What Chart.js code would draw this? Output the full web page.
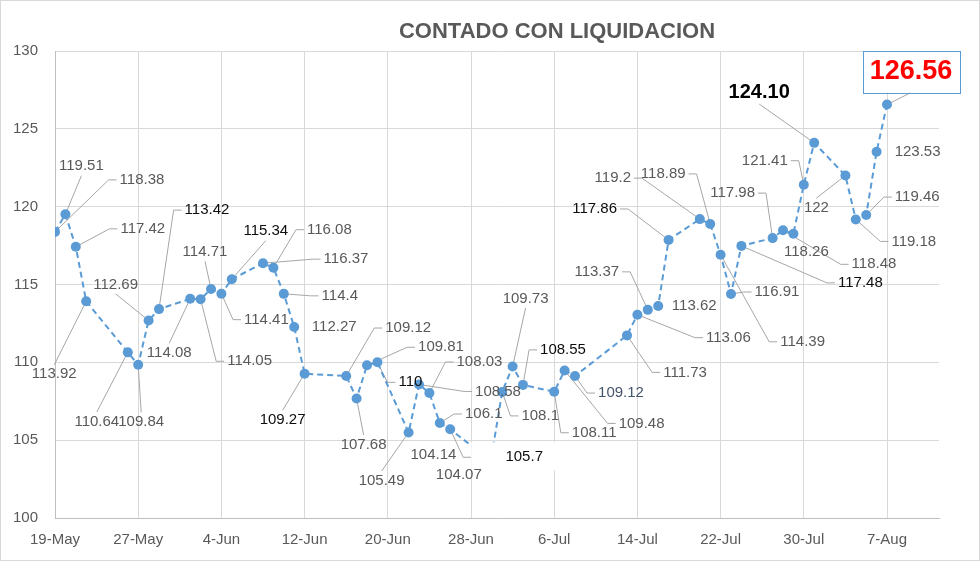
<!DOCTYPE html>
<html>
<head>
<meta charset="utf-8">
<title>Contado con Liquidacion</title>
<script src="https://cdn.jsdelivr.net/npm/chart.js@4.4.1/dist/chart.umd.min.js"></script>
<style>
  html, body { margin: 0; padding: 0; background: #fff; }
  #wrap { width: 980px; height: 561px; }
</style>
</head>
<body>
<div id="wrap"><canvas id="cclChart" width="980" height="561"></canvas></div>
<script>
// Daily CCL quotes (2020)
const dates = [
    '2020-05-19', '2020-05-20', '2020-05-21', '2020-05-22', '2020-05-26', '2020-05-27', '2020-05-28', '2020-05-29',
    '2020-06-01', '2020-06-02', '2020-06-03', '2020-06-04', '2020-06-05', '2020-06-08', '2020-06-09', '2020-06-10',
    '2020-06-11', '2020-06-12', '2020-06-16', '2020-06-17', '2020-06-18', '2020-06-19', '2020-06-22', '2020-06-23',
    '2020-06-24', '2020-06-25', '2020-06-26', '2020-06-29', '2020-06-30', '2020-07-01', '2020-07-02', '2020-07-03',
    '2020-07-06', '2020-07-07', '2020-07-08', '2020-07-13', '2020-07-14', '2020-07-15', '2020-07-16', '2020-07-17',
    '2020-07-20', '2020-07-21', '2020-07-22', '2020-07-23', '2020-07-24', '2020-07-27', '2020-07-28', '2020-07-29',
    '2020-07-30', '2020-07-31', '2020-08-03', '2020-08-04', '2020-08-05', '2020-08-06', '2020-08-07'
];
const cclValues = [
    118.38, 119.51, 117.42, 113.92, 110.64, 109.84, 112.69, 113.42,
    114.08, 114.05, 114.71, 114.41, 115.34, 116.37, 116.08, 114.4,
    112.27, 109.27, 109.12, 107.68, 109.81, 110, 105.49, 108.58,
    108.03, 106.1, 105.7, 104.14, 104.07, 108.1, 109.73, 108.55,
    108.11, 109.48, 109.12, 111.73, 113.06, 113.37, 113.62, 117.86,
    119.2, 118.89, 116.91, 114.39, 117.48, 117.98, 118.48, 118.26,
    121.41, 124.10, 122, 119.18, 119.46, 123.53, 126.56
];
// label texts as printed on the chart
const labelTexts = [
    '118.38', '119.51', '117.42', '113.92', '110.64', '109.84', '112.69', '113.42',
    '114.08', '114.05', '114.71', '114.41', '115.34', '116.37', '116.08', '114.4',
    '112.27', '109.27', '109.12', '107.68', '109.81', '110', '105.49', '108.58',
    '108.03', '106.1', '105.7', '104.14', '104.07', '108.1', '109.73', '108.55',
    '108.11', '109.48', '109.12', '111.73', '113.06', '113.37', '113.62', '117.86',
    '119.2', '118.89', '114.39', '116.91', '117.48', '117.98', '118.48', '118.26',
    '121.41', '124.10', '122', '119.18', '119.46', '123.53', '126.56'
];
const xTickLabels = ['19-May', '27-May', '4-Jun', '12-Jun', '20-Jun', '28-Jun', '6-Jul', '14-Jul', '22-Jul', '30-Jul', '7-Aug'];
const yTickValues = [100, 105, 110, 115, 120, 125, 130];

const tickStepDays = 8;
const lastDay = 85;

// label layout: [dx, dy, leader side, tone]
const labelPlace = [
    [87, -52, 'l', 'g'], [16, -48, 'b', 'g'], [67, -18, 'l', 'g'], [-32, 73, 't', 'g'],
    [-31, 69, 't', 'g'], [3, 57, 't', 'g'], [-33, -36, 'b', 'g'], [48, -99, 'l', 'k'],
    [-21, 54, 't', 'g'], [49, 62, 'l', 'g'], [-6, -37, 'b', 'g'], [45, 26, 'l', 'g'],
    [34, -48, 'b', 'k'], [83, -4, 'l', 'g'], [56, -38, 'l', 'g'], [56, 2, 'l', 'g'],
    [40, 0, '', 'g'], [-22, 46, 't', 'k'], [62, -48, 'l', 'g'], [7, 46, 't', 'g'],
    [74, -18, 'l', 'g'], [33, 20, 'l', 'k'], [-27, 48, 't', 'g'], [79, 7, 'l', 'g'],
    [50, -31, 'l', 'g'], [44, -9, 'l', 'g'], [74, 28, 'l', 'W'], [-48, 1, '', 'g'],
    [-33, 20, '', 'g'], [38, 24, 'l', 'g'], [13, -68, 'b', 'g'], [40, -35, 'l', 'k'],
    [40, 41, 'l', 'g'], [77, 53, 'l', 'g'], [46, 17, 'l', 'b'], [58, 37, 'l', 'g'],
    [91, 23, 'l', 'g'], [-51, -38, 'r', 'g'], [36, 0, '', 'g'], [-74, -31, 'r', 'k'],
    [-87, -41, 'r', 'g'], [-47, -50, 'r', 'g'], [82, 87, 'l', 'g'], [46, -2, 'l', 'g'],
    [119, 37, 'l', 'k'], [-40, -45, 'r', 'g'], [91, 34, 'l', 'g'], [13, 18, '', 'g'],
    [-39, -24, 'r', 'g'], [-55, -50, 'b', 'K'], [-29, 32, 't', 'g'], [58, 22, 'l', 'g'],
    [51, -18, 'l', 'g'], [41, 0, '', 'g'], [24, -33, 'b', 'R']
];

const FONT = "'Liberation Sans', Arial, sans-serif";
const tones = {
    g: { color: '#595959', size: 15, weight: '' },
    k: { color: '#0D0D0D', size: 15, weight: '' },
    b: { color: '#44546A', size: 15, weight: '' },
    W: { color: '#0D0D0D', size: 15, weight: '', box: [-53, 33, -15, 13], fill: '#FFFFFF' },
    K: { color: '#000000', size: 20, weight: 'bold ' },
    R: { color: '#FF0000', size: 27, weight: 'bold ', box: [-48, 49, -21, 21], fill: '#FFFFFF', stroke: '#5B9BD5' }
};

function dayOffset(s) {
    const p = s.split('-').map(Number);
    const base = Date.UTC(2020, 4, 19);
    return Math.round((Date.UTC(p[0], p[1] - 1, p[2]) - base) / 86400000);
}

const points = dates.map((d, i) => ({ x: dayOffset(d), y: cclValues[i] }));

function labelGeometry(chart, i) {
    const ctx = chart.ctx;
    const pt = chart.getDatasetMeta(0).data[i];
    const [dx, dy, side, toneKey] = labelPlace[i];
    const tone = tones[toneKey];
    ctx.font = tone.weight + tone.size + 'px ' + FONT;
    const w = ctx.measureText(labelTexts[i]).width;
    const h = tone.size * 0.72;
    const cx = pt.x + dx, cy = pt.y + dy;
    let box = [cx - w / 2 - 3, cx + w / 2 + 3, cy - h / 2 - 4, cy + h / 2 + 4];
    if (tone.box) {
        box = [cx + tone.box[0], cx + tone.box[1], cy + tone.box[2], cy + tone.box[3]];
    }
    return { pt, cx, cy, side, tone, box };
}

const leaderPlugin = {
    id: 'leaders',
    beforeDatasetsDraw(chart) {
        const ctx = chart.ctx;
        ctx.save();
        ctx.strokeStyle = '#A6A6A6';
        ctx.lineWidth = 1;
        labelTexts.forEach((t, i) => {
            const g = labelGeometry(chart, i);
            if (!g.side) return;
            const [x0, x1, y0, y1] = g.box;
            ctx.beginPath();
            ctx.moveTo(g.pt.x, g.pt.y);
            if (g.side === 'l') {
                ctx.lineTo(x0 - 8, g.cy);
                ctx.lineTo(x0, g.cy);
            } else if (g.side === 'r') {
                ctx.lineTo(x1 + 8, g.cy);
                ctx.lineTo(x1, g.cy);
            } else if (g.side === 't') {
                ctx.lineTo(g.cx, y0);
            } else {
                ctx.lineTo(g.cx, y1);
            }
            ctx.stroke();
        });
        ctx.restore();
    },
    afterDatasetsDraw(chart) {
        const ctx = chart.ctx;
        ctx.save();
        labelTexts.forEach((t, i) => {
            const g = labelGeometry(chart, i);
            const [x0, x1, y0, y1] = g.box;
            if (g.tone.fill) {
                ctx.fillStyle = g.tone.fill;
                ctx.fillRect(x0, y0, x1 - x0, y1 - y0);
            }
            if (g.tone.stroke) {
                ctx.strokeStyle = g.tone.stroke;
                ctx.lineWidth = 1;
                ctx.strokeRect(Math.round(x0) + 0.5, Math.round(y0) + 0.5, Math.round(x1 - x0), Math.round(y1 - y0));
            }
            ctx.font = g.tone.weight + g.tone.size + 'px ' + FONT;
            ctx.fillStyle = g.tone.color;
            ctx.textAlign = 'center';
            ctx.textBaseline = 'middle';
            ctx.fillText(t, g.cx, g.cy);
        });
        ctx.restore();
    },
    afterDraw(chart) {
        const ctx = chart.ctx;
        ctx.save();
        // title
        ctx.font = 'bold 22px ' + FONT;
        ctx.fillStyle = '#595959';
        ctx.textAlign = 'center';
        ctx.textBaseline = 'middle';
        ctx.fillText('CONTADO CON LIQUIDACION', 557, 32);
        // outer frame
        ctx.strokeStyle = '#D9D9D9';
        ctx.lineWidth = 1;
        ctx.strokeRect(0.5, 0.5, chart.width - 1, chart.height - 1);
        ctx.restore();
    }
};

new Chart(document.getElementById('cclChart'), {
    type: 'line',
    data: {
        datasets: [{
            label: 'CCL',
            data: points,
            borderColor: '#5B9BD5',
            borderWidth: 2,
            borderDash: [6, 4],
            pointRadius: 5,
            pointBorderWidth: 0,
            pointBackgroundColor: '#5B9BD5',
            pointHoverRadius: 5,
            tension: 0,
            fill: false
        }]
    },
    options: {
        responsive: false,
        animation: false,
        events: [],
        layout: { padding: { top: 51, right: 41, left: 0, bottom: 0 } },
        plugins: {
            legend: { display: false },
            title: { display: false },
            tooltip: { enabled: false }
        },
        scales: {
            x: {
                type: 'linear',
                min: 0,
                max: lastDay,
                afterBuildTicks: (scale) => {
                    scale.ticks = xTickLabels.map((l, i) => ({ value: i * tickStepDays }));
                },
                afterFit: (scale) => { scale.height = 43; },
                grid: { color: '#D9D9D9', drawTicks: false },
                border: { color: '#BFBFBF' },
                ticks: {
                    autoSkip: false,
                    maxRotation: 0,
                    padding: 13,
                    color: '#595959',
                    font: { family: FONT, size: 15 },
                    callback: (value) => xTickLabels[Math.round(value / tickStepDays)]
                }
            },
            y: {
                min: yTickValues[0],
                max: yTickValues[yTickValues.length - 1],
                afterBuildTicks: (scale) => {
                    scale.ticks = yTickValues.map(v => ({ value: v }));
                },
                afterFit: (scale) => { scale.width = 55; },
                grid: { color: '#D9D9D9', drawTicks: false },
                border: { color: '#BFBFBF' },
                ticks: {
                    padding: 17,
                    color: '#595959',
                    font: { family: FONT, size: 15 }
                }
            }
        }
    },
    plugins: [leaderPlugin]
});
</script>
</body>
</html>
